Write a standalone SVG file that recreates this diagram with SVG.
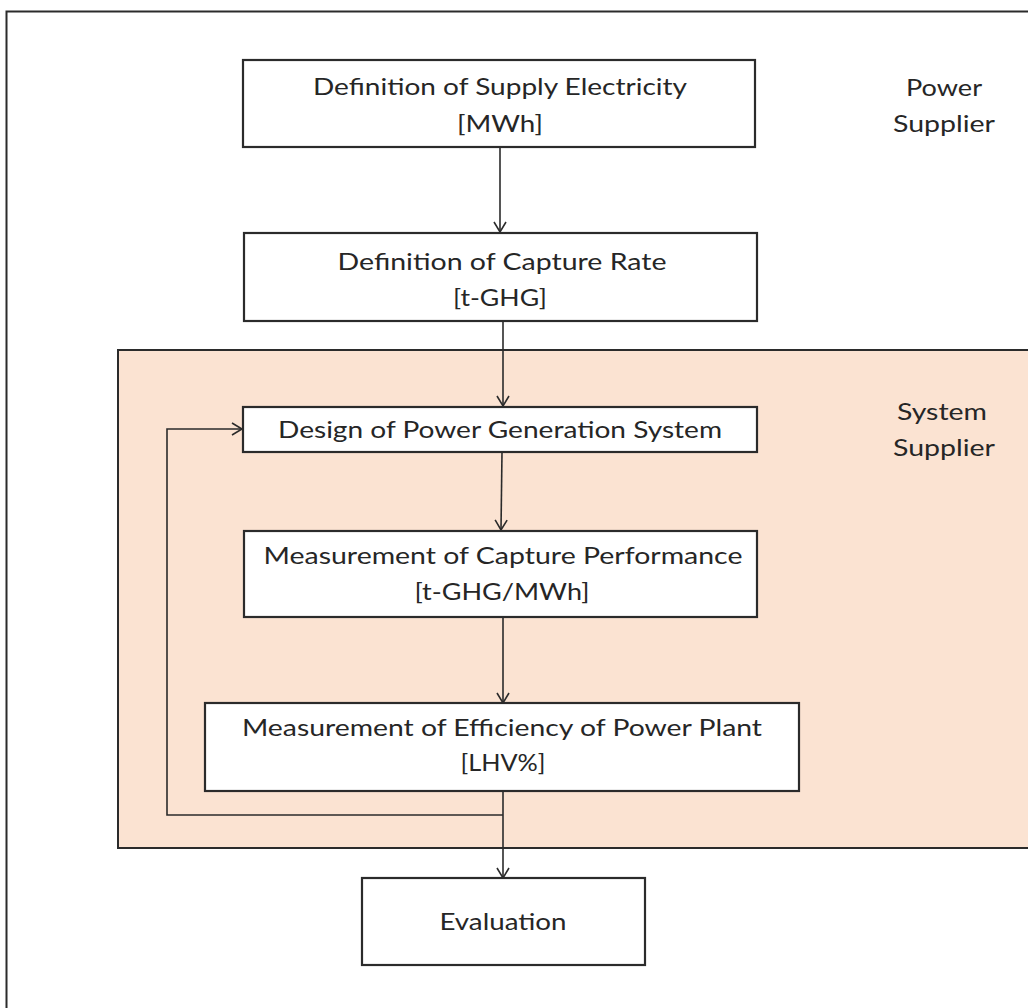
<svg xmlns="http://www.w3.org/2000/svg" width="1028" height="1008" viewBox="0 0 1028 1008">
  <style>
    .box { fill: #ffffff; stroke: #2b2b2b; stroke-width: 2.2; }
    .lbl { font-family: Lato, "Open Sans", "Liberation Sans", sans-serif; font-size: 24px; fill: #262626; text-anchor: middle; }
    .edge { fill: none; stroke: #2b2b2b; stroke-width: 1.6; }
  </style>
  <defs>
    <marker id="arrow" markerWidth="14" markerHeight="14" refX="12" refY="7" orient="auto" markerUnits="userSpaceOnUse">
      <path d="M2,1 L12,7 L2,13" fill="none" stroke="#2b2b2b" stroke-width="1.6"/>
    </marker>
  </defs>

  <rect x="0" y="0" width="1028" height="1008" fill="#ffffff"/>

  <!-- outer frame (open on the right and bottom) -->
  <path d="M1028,11.5 H6.5 V1008" fill="none" stroke="#2b2b2b" stroke-width="2"/>

  <!-- system supplier band -->
  <g id="system-supplier-band">
    <path d="M1030,350 H118 V848 H1030" fill="#fbe3d2" stroke="#2b2b2b" stroke-width="2"/>
  </g>

  <g id="label-power-supplier">
    <text class="lbl" x="944" y="96" textLength="76" lengthAdjust="spacingAndGlyphs">Power</text>
    <text class="lbl" x="944" y="132" textLength="102" lengthAdjust="spacingAndGlyphs">Supplier</text>
  </g>
  <g id="label-system-supplier">
    <text class="lbl" x="942" y="420" textLength="90" lengthAdjust="spacingAndGlyphs">System</text>
    <text class="lbl" x="944" y="456" textLength="102" lengthAdjust="spacingAndGlyphs">Supplier</text>
  </g>

  <!-- connectors -->
  <g id="connectors">
    <line class="edge" x1="500" y1="147" x2="500" y2="232" marker-end="url(#arrow)"/>
    <line class="edge" x1="503" y1="321" x2="503" y2="406" marker-end="url(#arrow)"/>
    <line class="edge" x1="502" y1="452" x2="501" y2="530" marker-end="url(#arrow)"/>
    <line class="edge" x1="503" y1="617" x2="503" y2="703" marker-end="url(#arrow)"/>
    <line class="edge" x1="503" y1="791" x2="503" y2="878" marker-end="url(#arrow)"/>
    <path class="edge" d="M503,815 H167 V429 H242" marker-end="url(#arrow)"/>
  </g>

  <g id="node-supply-electricity">
    <rect class="box" x="243" y="60" width="512" height="87"/>
    <text class="lbl" x="500" y="95" textLength="374" lengthAdjust="spacingAndGlyphs">Definition of Supply Electricity</text>
    <text class="lbl" x="500" y="132" textLength="86" lengthAdjust="spacingAndGlyphs">[MWh]</text>
  </g>

  <g id="node-capture-rate">
    <rect class="box" x="244" y="233" width="513" height="88"/>
    <text class="lbl" x="502" y="270" textLength="329" lengthAdjust="spacingAndGlyphs">Definition of Capture Rate</text>
    <text class="lbl" x="500" y="306" textLength="94" lengthAdjust="spacingAndGlyphs">[t-GHG]</text>
  </g>

  <g id="node-design">
    <rect class="box" x="243" y="407" width="514" height="45"/>
    <text class="lbl" x="500" y="438" textLength="444" lengthAdjust="spacingAndGlyphs">Design of Power Generation System</text>
  </g>

  <g id="node-capture-performance">
    <rect class="box" x="244" y="531" width="513" height="86"/>
    <text class="lbl" x="503" y="564" textLength="479" lengthAdjust="spacingAndGlyphs">Measurement of Capture Performance</text>
    <text class="lbl" x="502" y="600" textLength="175" lengthAdjust="spacingAndGlyphs">[t-GHG/MWh]</text>
  </g>

  <g id="node-efficiency">
    <rect class="box" x="205" y="703" width="594" height="88"/>
    <text class="lbl" x="502" y="736" textLength="520" lengthAdjust="spacingAndGlyphs">Measurement of Efficiency of Power Plant</text>
    <text class="lbl" x="503" y="771" textLength="85" lengthAdjust="spacingAndGlyphs">[LHV%]</text>
  </g>

  <g id="node-evaluation">
    <rect class="box" x="362" y="878" width="283" height="87"/>
    <text class="lbl" x="503" y="930" textLength="127" lengthAdjust="spacingAndGlyphs">Evaluation</text>
  </g>
</svg>
